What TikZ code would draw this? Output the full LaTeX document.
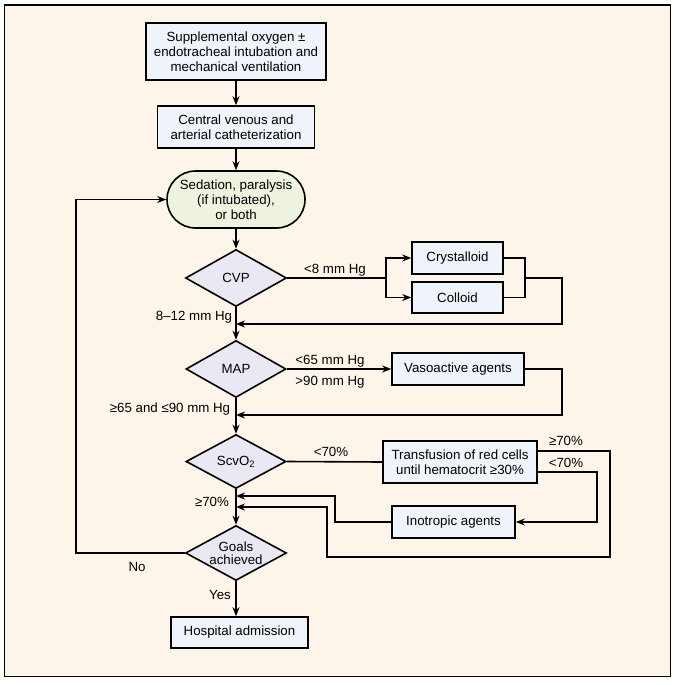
\documentclass[tikz,border=0pt]{standalone}
\usepackage{fontspec}
\setmainfont{Liberation Sans}
\usetikzlibrary{shapes.geometric,shapes.misc,arrows.meta}
\definecolor{cream}{HTML}{FEF5EA}
\definecolor{boxblue}{HTML}{EFF4FB}
\definecolor{dialav}{HTML}{EAE9F3}
\definecolor{stadgreen}{HTML}{EEF3DF}
\begin{document}
\begin{tikzpicture}[x=1pt,y=-1pt,
  font=\fontsize{13.3}{15}\selectfont,
  box/.style={draw, line width=1.6pt, fill=boxblue, align=center, inner sep=0},
  dia/.style={diamond, draw, line width=1.6pt, fill=dialav, inner sep=0, align=center, aspect=1.75},
  line/.style={line width=1.6pt},
  arr/.style={line width=1.6pt, -{Stealth[length=9pt,width=7pt]}},
  lab/.style={inner sep=0}]
\useasboundingbox (0,0) rectangle (673,685);
\fill[white] (0,0) rectangle (673,685);
\draw[line width=1.5pt, fill=cream] (4.5,5) rectangle (670.5,676.5);

% nodes
\node[box, minimum width=180pt, minimum height=57pt] (b1) at (236,51.5)
  {Supplemental oxygen ±\\endotracheal intubation and\\mechanical ventilation};
\node[box, minimum width=157pt, minimum height=42pt] (b2) at (236,127)
  {Central venous and\\arterial catheterization};
\node[rounded rectangle, draw, line width=1.6pt, fill=stadgreen, align=center, inner sep=0,
  minimum width=138pt, minimum height=57pt] (stad) at (236,199.5)
  {Sedation, paralysis\\(if intubated),\\or both};
\node[dia, minimum width=101pt, minimum height=57pt] (cvp) at (236,278) {CVP};
\node[box, minimum width=91pt, minimum height=32pt] (cry) at (457.5,258) {Crystalloid};
\node[box, minimum width=91pt, minimum height=31pt] (col) at (457.5,297.5) {Colloid};
\node[dia, minimum width=100pt, minimum height=57pt] (map) at (236,369) {MAP};
\node[box, minimum width=132pt, minimum height=32pt] (vas) at (458,369) {Vasoactive agents};
\node[dia, minimum width=100pt, minimum height=54pt] (scv) at (236,461.5) {ScvO\textsubscript{2}};
\node[box, minimum width=154pt, minimum height=42pt] (tra) at (460,462)
  {Transfusion of red cells\\until hematocrit ≥30\%};
\node[box, minimum width=123pt, minimum height=32pt] (ino) at (453.5,522) {Inotropic agents};
\node[dia, minimum width=101pt, minimum height=55pt, font=\fontsize{13.3}{13}\selectfont] (goal) at (236,553)
  {Goals\\achieved};
\node[box, minimum width=137pt, minimum height=31pt] (hosp) at (239.5,632.5) {Hospital admission};

% junction coordinates on the main line
\coordinate (j1) at (236,324);
\coordinate (j2) at (236,415);
\coordinate (j3) at (236,507);
\coordinate (j4) at (236,496);
\coordinate (k1) at (386,278);
\coordinate (k2) at (525,278);

% main spine
\draw[arr] (b1) -- (b2);
\draw[arr] (b2) -- (stad);
\draw[arr] (stad) -- (cvp);
\draw[arr] (cvp) -- (map);
\draw[arr] (map) -- (scv);
\draw[arr] (scv) -- (goal);
\draw[arr] (goal.south) -- (goal.south |- hosp.north);

% CVP branch
\draw[line] (cvp.east) -- (k1);
\draw[arr] (k1) |- (cry.west);
\draw[arr] (k1) |- (col.west);
\draw[line] (cry.east) -| (k2) |- (col.east);
\draw[arr] (k2) -- (562,278) |- (j1);

% MAP branch
\draw[arr] (map.east) -- (vas.west);
\draw[arr] (vas.east) -| (562,415) -- (j2);

% ScvO2 branch
\draw[line] (scv.east) -- (tra.west);
\draw[arr] (tra.east |- 0,451) -- (610,451) -- (610,557) -- (327,557) -- (327,507) -- (j3);
\draw[arr] (tra.east |- 0,472) -- (597,472) |- (ino.east);
\draw[arr] (ino.west) -- (335,522) |- (j4);

% No loop
\draw[arr] (goal.west) -- (76,553) |- (stad.west);

% labels
\node[lab] at (335,270) {<8 mm Hg};
\node[lab] at (194,317) {8–12 mm Hg};
\node[lab] at (330,361) {<65 mm Hg};
\node[lab] at (330,382) {>90 mm Hg};
\node[lab] at (170,409) {≥65 and ≤90 mm Hg};
\node[lab] at (331,452) {<70\%};
\node[lab] at (566,441) {≥70\%};
\node[lab] at (566,463) {<70\%};
\node[lab] at (212,502) {≥70\%};
\node[lab] at (137,567) {No};
\node[lab] at (220,595) {Yes};
\end{tikzpicture}
\end{document}
